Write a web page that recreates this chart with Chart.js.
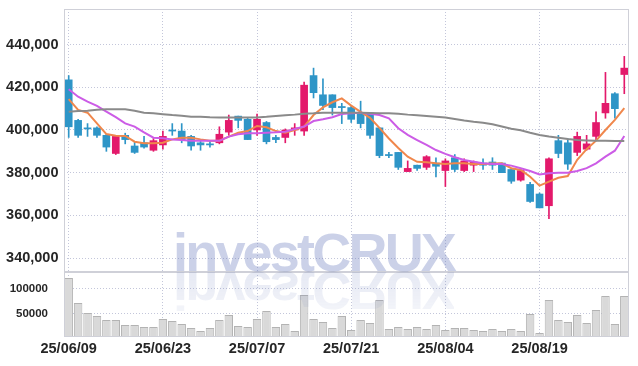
<!DOCTYPE html>
<html>
<head>
<meta charset="utf-8">
<script src="https://cdn.jsdelivr.net/npm/chart.js@4.4.1/dist/chart.umd.min.js"></script>
<style>
  html, body { margin: 0; padding: 0; background: #fff; }
  #wrap { position: relative; width: 638px; height: 366px; overflow: hidden; }
  #priceCanvas { position: absolute; left: 0; top: 0; }
  #volCanvas { position: absolute; left: 0; top: 272px; }
  .wm { position: absolute; left: 173px; font-family: "Liberation Sans", Arial, sans-serif; font-weight: bold;
        font-size: 54px; line-height: 54px; letter-spacing: -2.8px; white-space: nowrap; pointer-events: none; }
  #wm1 { top: 225px; color: rgba(110,128,190,0.36); }
  #wm2 { top: 264px; color: rgba(110,128,190,0.17); transform: scaleY(-1);
         -webkit-mask-image: linear-gradient(to top, rgba(0,0,0,1) 25%, rgba(0,0,0,0.4) 100%);
         mask-image: linear-gradient(to top, rgba(0,0,0,1) 25%, rgba(0,0,0,0.4) 100%); }
</style>
</head>
<body>
<div id="wrap">
  <canvas id="priceCanvas" width="638" height="273"></canvas>
  <canvas id="volCanvas" width="638" height="94"></canvas>
  <div class="wm" id="wm1">investCRUX</div>
  <div class="wm" id="wm2">investCRUX</div>
</div>
<script>
// ---------------- DATA ----------------
const dates = [
  '25/06/09','25/06/10','25/06/11','25/06/12','25/06/13',
  '25/06/16','25/06/17','25/06/18','25/06/19','25/06/20',
  '25/06/23','25/06/24','25/06/25','25/06/26','25/06/27',
  '25/06/30','25/07/01','25/07/02','25/07/03','25/07/04',
  '25/07/07','25/07/08','25/07/09','25/07/10','25/07/11',
  '25/07/14','25/07/15','25/07/16','25/07/17','25/07/18',
  '25/07/21','25/07/22','25/07/23','25/07/24','25/07/25',
  '25/07/28','25/07/29','25/07/30','25/07/31','25/08/01',
  '25/08/04','25/08/05','25/08/06','25/08/07','25/08/08',
  '25/08/11','25/08/12','25/08/13','25/08/14',
  '25/08/18','25/08/19','25/08/20','25/08/21','25/08/22',
  '25/08/25','25/08/26','25/08/27','25/08/28','25/08/29',
  '25/09/01'
];
const xTickLabels = ['25/06/09','25/06/23','25/07/07','25/07/21','25/08/04','25/08/19'];
const priceTicks = [340000, 360000, 380000, 400000, 420000, 440000];
const volumeTicks = [50000, 100000];

const openP = [423500,404500,401000,401000,397500,389000,397500,392500,394000,390500,
               393000,400000,399500,397000,394000,393500,394000,399000,406500,405000,
               400000,403500,396500,396500,400000,399500,425500,416500,416500,411000,
               410500,408000,408000,401000,388500,389500,380500,383500,382500,384500,
               381000,387000,381000,383500,384500,385000,384500,381500,376500,374500,
               370000,364500,395000,394000,389500,391000,397000,408000,417000,426000];
const highP = [425500,405000,403000,401500,398000,397500,398500,394500,397000,396000,
               399500,403000,403000,397500,395500,395000,401500,407000,406500,405500,
               407500,404000,397500,400500,403000,422500,429000,424000,416500,412500,
               411500,413500,408000,401000,389500,389500,385500,383500,388000,387000,
               386500,388500,386500,385500,386500,387000,384500,381500,381500,375500,
               370500,387000,397500,396000,399000,397500,408500,427000,417500,434500];
const lowP  = [396500,396500,397000,396500,390000,388500,393500,389000,391500,390000,
               391000,397500,394000,390500,390500,392000,393500,397500,401000,395500,
               397500,393500,394000,394000,397500,397500,415000,409500,407000,403000,
               403500,401000,396000,387000,387000,381500,380500,381000,381500,378000,
               373500,380500,380500,380500,381500,381500,380000,375000,376000,366000,
               363500,358500,387000,381500,388000,390500,395500,405500,405500,417000];
const closeP= [401500,397500,400500,397500,392000,397000,395500,389500,392000,395000,
               397000,399500,395500,392500,393000,393000,398000,404500,404500,395500,
               405000,394500,395500,400000,401000,421000,417500,411500,410500,410500,
               405000,403000,397500,388000,388000,382500,382000,382000,387500,383000,
               385500,381500,385500,385000,383500,383500,380000,376000,381000,366500,
               363500,386500,389000,384000,397000,393500,403500,412500,410000,429000];

const ma5  = [414500,409400,408100,403100,398100,397300,397200,394500,393800,393800,
              394000,395600,396400,396400,395600,395000,395000,396900,398700,399500,
              401900,401300,399500,398700,400000,401600,407000,410600,413000,414800,
              411400,408500,405700,401000,396000,391600,387500,385100,384900,384400,
              384100,384400,384400,384100,384100,384300,384400,382100,381300,378100,
              373900,375800,377600,378400,386000,391000,395000,400000,404700,410200];
const ma20 = [419100,415600,413300,411300,408600,406000,403100,401600,398900,396400,
              396100,395600,395300,395000,394900,394900,394900,396900,398000,398500,
              398500,398700,398900,399200,400500,401600,404200,405000,406000,407500,
              407800,408100,407600,407000,405500,400800,397700,395300,393000,390600,
              388800,387200,385900,385100,384400,384100,384100,383300,382100,380800,
              379200,379700,380000,380000,380800,382100,384400,387500,390300,397200];
const ma60 = [408600,408900,409000,409500,409700,409700,409700,409000,408100,407800,
              407400,407000,406700,406200,406200,406000,405900,405900,405900,405900,
              405900,406200,406600,406900,407200,407600,407800,408100,408100,408100,
              408100,408100,408000,407800,407800,407600,407200,406900,406600,406200,
              405800,405200,404500,403900,403400,402700,401600,400600,399900,398700,
              397700,396900,396400,395800,395300,395100,394900,394900,394800,394800];

const volume = [122000,72000,52000,46000,38000,38000,28000,28000,24000,24000,
                40000,36000,30000,22000,16000,22000,38000,48000,26000,24000,
                40000,56000,24000,30000,16000,88000,40000,34000,22000,46000,
                18000,38000,32000,78000,20000,24000,20000,24000,20000,28000,
                18000,22000,22000,18000,16000,20000,16000,20000,16000,50000,
                12000,78000,38000,34000,48000,32000,58000,86000,30000,86000];

// ---------------- STYLE ----------------
const UP = '#e3196b', DOWN = '#2e95c7';
const GRID = '#c3c6da', BOX = '#cfd0d8';
const FONT = '"Liberation Sans Narrow", "Liberation Sans", sans-serif';
const TXT = '#262626';

const candleColors = openP.map((o, i) => closeP[i] >= o ? UP : DOWN);
const bodies = openP.map((o, i) => [o, closeP[i]]);
const wicks = lowP.map((l, i) => [l, highP[i]]);

const boxPlugin = {
  id: 'box',
  afterDraw(chart) {
    const {ctx, chartArea: a} = chart;
    ctx.save();
    ctx.strokeStyle = BOX; ctx.lineWidth = 1; ctx.setLineDash([]);
    ctx.strokeRect(Math.round(a.left) + 0.5, Math.round(a.top) + 0.5,
                   Math.round(a.right - a.left) - 1, Math.round(a.bottom - a.top) - 1);
    ctx.restore();
  }
};

function fixY(width) {
  return function (s) { s.width = width; s.paddingTop = 0; s.paddingBottom = 0; };
}
function fixX(height) {
  return function (s) { s.height = height; s.paddingLeft = 0; s.paddingRight = 0; };
}
const gridColorX = ctx => (ctx.tick && xTickLabels.includes(dates[ctx.index])) ? GRID : 'rgba(0,0,0,0)';

new Chart(document.getElementById('priceCanvas'), {
  type: 'bar',
  data: {
    labels: dates,
    datasets: [
      { type: 'line', data: ma60, borderColor: '#8a8a8a', borderWidth: 2, pointRadius: 0, order: -3 },
      { type: 'line', data: ma20, borderColor: '#cc5ce6', borderWidth: 2, pointRadius: 0, order: -2 },
      { type: 'line', data: ma5, borderColor: '#f0874c', borderWidth: 2, pointRadius: 0, order: -1 },
      { data: bodies, backgroundColor: candleColors, barThickness: 7, grouped: false, order: 1 },
      { data: wicks, backgroundColor: candleColors, barThickness: 1, grouped: false, order: 2 }
    ]
  },
  options: {
    responsive: false, animation: false, devicePixelRatio: 1,
    layout: { padding: { top: 9, right: 9, left: 0, bottom: 0 }, autoPadding: false },
    plugins: { legend: { display: false }, tooltip: { enabled: false } },
    scales: {
      x: {
        offset: true,
        grid: { offset: false, color: gridColorX, drawTicks: false, lineWidth: 1 },
        border: { display: false, dash: [1, 2] },
        ticks: { display: false, autoSkip: false },
        afterFit: fixX(1)
      },
      y: {
        min: 333450, max: 456700,
        afterBuildTicks: s => { s.ticks = priceTicks.map(v => ({ value: v })); },
        grid: { color: GRID, drawTicks: false },
        border: { display: false, dash: [1, 2] },
        ticks: { color: TXT, font: { family: FONT, size: 14.5, weight: 'bold' }, padding: 5.5,
                 callback: v => v.toLocaleString('en-US') },
        afterFit: fixY(64)
      }
    }
  },
  plugins: [boxPlugin]
});

new Chart(document.getElementById('volCanvas'), {
  type: 'bar',
  data: {
    labels: dates,
    datasets: [
      { data: volume, backgroundColor: '#d9d9d9', borderColor: '#b3b3b3', borderWidth: 1,
        barPercentage: 0.9, categoryPercentage: 1 }
    ]
  },
  options: {
    responsive: false, animation: false, devicePixelRatio: 1,
    layout: { padding: { top: 0, right: 9, left: 0, bottom: 0 }, autoPadding: false },
    plugins: { legend: { display: false }, tooltip: { enabled: false } },
    scales: {
      x: {
        offset: true,
        grid: { offset: false, color: gridColorX, drawTicks: false },
        border: { display: false, dash: [1, 2] },
        ticks: { autoSkip: false, maxRotation: 0, color: TXT, padding: 3,
                 font: { family: FONT, size: 14.5, weight: 'bold' },
                 callback: (v, i) => xTickLabels.includes(dates[i]) ? dates[i] : '' },
        afterFit: fixX(29)
      },
      y: {
        min: 4000, max: 134000,
        afterBuildTicks: s => { s.ticks = volumeTicks.map(v => ({ value: v })); },
        grid: { color: GRID, drawTicks: false },
        border: { display: false, dash: [1, 2] },
        ticks: { color: TXT, font: { family: FONT, size: 11.5, weight: 'bold' }, padding: 16,
                 callback: v => String(v) },
        afterFit: fixY(64)
      }
    }
  },
  plugins: [boxPlugin]
});
</script>
</body>
</html>
